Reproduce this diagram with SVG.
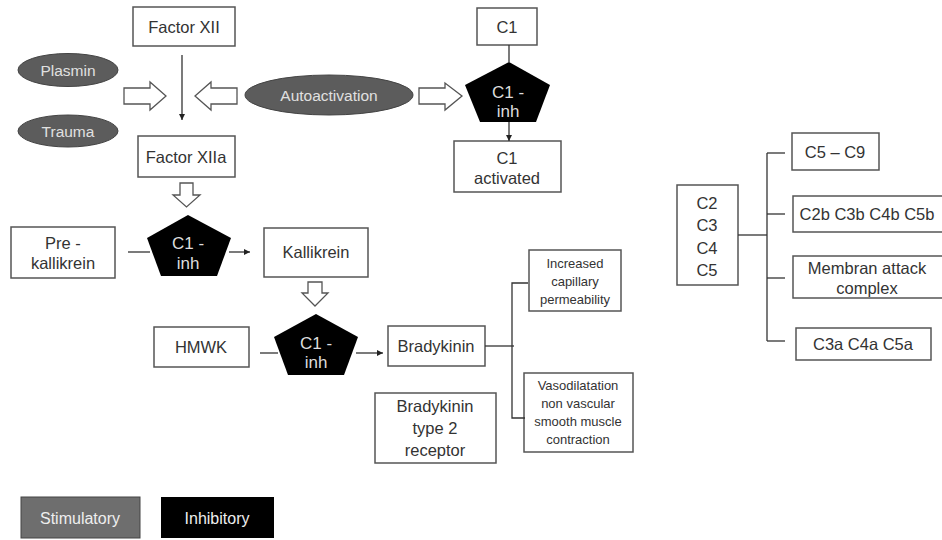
<svg xmlns="http://www.w3.org/2000/svg" width="942" height="540" viewBox="0 0 942 540">
<defs>
<style>
text{font-family:"Liberation Sans",Arial,sans-serif;text-anchor:middle;dominant-baseline:central}
.box{fill:#fff;stroke:#555;stroke-width:1.5}
.t{fill:#333;font-size:16.5px}
.s{fill:#333;font-size:13px}
.ell{fill:#5c5c5c;stroke:#444;stroke-width:1}
.et{fill:#e0e0e0;font-size:15.5px}
.pent{fill:#000}
.pt{fill:#ddd;font-size:17px}
.hollow{fill:#fff;stroke:#555;stroke-width:1.3}
.ln{stroke:#333;stroke-width:1.3;fill:none}
</style>
<marker id="ah" viewBox="0 0 10 10" refX="10" refY="5" markerWidth="6" markerHeight="6" orient="auto" markerUnits="userSpaceOnUse">
<path d="M0,0 L10,5 L0,10 z" fill="#222"/>
</marker>
</defs>
<rect width="942" height="540" fill="#fff"/>

<g id="factorXII"><rect class="box" x="133" y="7" width="102" height="39"/><text class="t" x="184" y="27">Factor XII</text></g>
<g id="plasmin"><ellipse class="ell" cx="68" cy="70" rx="50" ry="16.5"/><text class="et" x="68" y="70">Plasmin</text></g>
<g id="trauma"><ellipse class="ell" cx="68" cy="131" rx="50" ry="16"/><text class="et" x="68" y="131">Trauma</text></g>
<g id="autoactivation"><ellipse class="ell" cx="329" cy="95" rx="84" ry="20"/><text class="et" x="329" y="95">Autoactivation</text></g>
<g id="factorXIIa"><rect class="box" x="138" y="136" width="97" height="41"/><text class="t" x="186" y="157">Factor XIIa</text></g>
<g id="c1"><rect class="box" x="477" y="8" width="60" height="37"/><text class="t" x="507" y="27">C1</text></g>
<g id="c1inh1"><polygon class="pent" points="509,62 550,85 536,122 480,122 465,85"/><text class="pt" x="508" y="92">C1 -</text><text class="pt" x="508" y="111">inh</text></g>
<g id="c1activated"><rect class="box" x="454" y="141" width="107" height="51"/><text class="t" x="507" y="158">C1</text><text class="t" x="507" y="178">activated</text></g>

<g id="prekallikrein"><rect class="box" x="11" y="227" width="104" height="51"/><text class="t" x="63" y="243">Pre -</text><text class="t" x="63" y="263">kallikrein</text></g>
<g id="c1inh2"><polygon class="pent" points="188,215 231,238 217,276 161,276 147,238"/><text class="pt" x="188" y="243">C1 -</text><text class="pt" x="188" y="263">inh</text></g>
<g id="kallikrein"><rect class="box" x="264" y="228" width="104" height="49"/><text class="t" x="316" y="252">Kallikrein</text></g>
<g id="hmwk"><rect class="box" x="154" y="327" width="95" height="40"/><text class="t" x="201" y="347">HMWK</text></g>
<g id="c1inh3"><polygon class="pent" points="316,314 358,337 344,375 288,375 274,337"/><text class="pt" x="316" y="343">C1 -</text><text class="pt" x="316" y="362">inh</text></g>
<g id="bradykinin"><rect class="box" x="388" y="326" width="97" height="40"/><text class="t" x="436" y="346">Bradykinin</text></g>
<g id="b2receptor"><rect class="box" x="375" y="393" width="121" height="70"/><text class="t" x="435" y="406">Bradykinin</text><text class="t" x="435" y="428">type 2</text><text class="t" x="435" y="450">receptor</text></g>
<g id="permeability"><rect class="box" x="529" y="250" width="92" height="61"/><text class="s" x="575" y="263">Increased</text><text class="s" x="575" y="281">capillary</text><text class="s" x="575" y="299">permeability</text></g>
<g id="vasodilatation"><rect class="box" x="524" y="373" width="109" height="79"/><text class="s" x="578" y="385">Vasodilatation</text><text class="s" x="578" y="403">non vascular</text><text class="s" x="578" y="421">smooth muscle</text><text class="s" x="578" y="439">contraction</text></g>

<g id="c2c5"><rect class="box" x="677" y="185" width="61" height="100"/><text class="t" x="707" y="203">C2</text><text class="t" x="707" y="225">C3</text><text class="t" x="707" y="248">C4</text><text class="t" x="707" y="270">C5</text></g>
<g id="c5c9"><rect class="box" x="792" y="133" width="87" height="37"/><text class="t" x="835" y="152">C5 – C9</text></g>
<g id="c2bc5b"><rect class="box" x="793" y="196" width="152" height="36"/><text class="t" x="867" y="214">C2b C3b C4b C5b</text></g>
<g id="mac"><rect class="box" x="793" y="256" width="152" height="42"/><text class="t" x="867" y="268">Membran attack</text><text class="t" x="867" y="288">complex</text></g>
<g id="c3ac5a"><rect class="box" x="796" y="328" width="135" height="32"/><text class="t" x="863" y="344">C3a C4a C5a</text></g>

<g id="legend-stim"><rect x="21" y="497" width="119" height="41" fill="#6e6e6e" stroke="#444" stroke-width="1"/><text x="80" y="518" fill="#eee" font-size="16px">Stimulatory</text></g>
<g id="legend-inh"><rect x="161" y="497" width="113" height="41" fill="#000"/><text x="217" y="518" fill="#eee" font-size="16px">Inhibitory</text></g>

<g id="connectors">
<line class="ln" x1="182" y1="55" x2="182" y2="120" marker-end="url(#ah)"/>
<polygon class="hollow" points="124,88 150,88 150,82 166,96 150,110 150,104 124,104"/>
<polygon class="hollow" points="237,88 211,88 211,82 195,96 211,110 211,104 237,104"/>
<polygon class="hollow" points="419,88 445,88 445,83 462,96 445,110 445,104 419,104"/>
<line class="ln" x1="509" y1="45" x2="509" y2="62"/>
<line class="ln" x1="509" y1="122" x2="509" y2="141" marker-end="url(#ah)"/>
<polygon class="hollow" points="180,183 193,183 193,195 200,195 186.5,207 173,195 180,195"/>
<line class="ln" x1="128" y1="252" x2="150" y2="252"/>
<line class="ln" x1="229" y1="252" x2="250" y2="252" marker-end="url(#ah)"/>
<polygon class="hollow" points="308,282 322,282 322,293 328,293 315,306 302,293 308,293"/>
<line class="ln" x1="260" y1="353" x2="278" y2="353"/>
<line class="ln" x1="356" y1="353" x2="383" y2="353" marker-end="url(#ah)"/>
<line class="ln" x1="485" y1="346" x2="514" y2="346"/>
<polyline class="ln" points="528,283 512,283 512,418 525,418"/>
<line class="ln" x1="738" y1="235" x2="767" y2="235"/>
<line class="ln" x1="767" y1="153" x2="767" y2="341"/>
<line class="ln" x1="767" y1="153" x2="785" y2="153"/>
<line class="ln" x1="767" y1="214" x2="785" y2="214"/>
<line class="ln" x1="767" y1="278" x2="785" y2="278"/>
<line class="ln" x1="767" y1="341" x2="785" y2="341"/>
</g>
</svg>
